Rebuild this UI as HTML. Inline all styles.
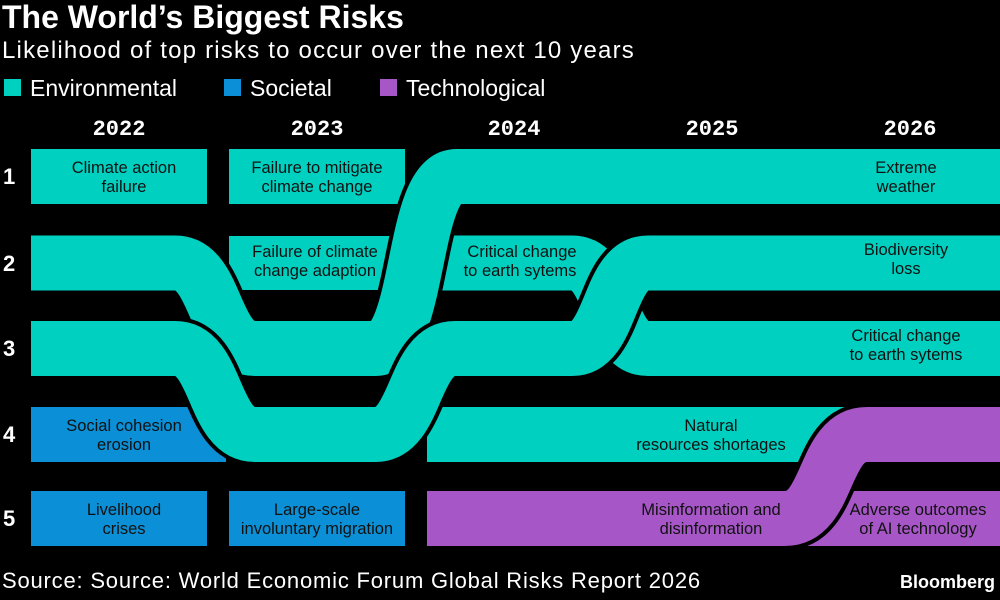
<!DOCTYPE html>
<html><head><meta charset="utf-8"><style>
body{margin:0;background:#000;width:1000px;height:600px;overflow:hidden;font-family:"Liberation Sans",sans-serif;color:#fff}
</style></head><body>
<svg width="1000" height="600" viewBox="0 0 1000 600" xmlns="http://www.w3.org/2000/svg" style="position:absolute;left:0;top:0">
<text x="2" y="28" font-size="32" font-weight="bold" fill="#fff">The World’s Biggest Risks</text>
<text x="2" y="58" font-size="24" letter-spacing="1.2" fill="#fff">Likelihood of top risks to occur over the next 10 years</text>
<rect x="4" y="79" width="17" height="17" fill="#00D0C0"/><text x="30" y="96" font-size="23" fill="#fff">Environmental</text>
<rect x="224" y="79" width="17" height="17" fill="#0B8FD6"/><text x="250" y="96" font-size="23" fill="#fff">Societal</text>
<rect x="380" y="79" width="17" height="17" fill="#A656C6"/><text x="406" y="96" font-size="23" fill="#fff">Technological</text>
<g font-family="Liberation Mono" font-weight="bold" font-size="22" fill="#fff" text-anchor="middle">
<text x="119" y="135">2022</text><text x="317" y="135">2023</text><text x="514" y="135">2024</text><text x="712" y="135">2025</text><text x="910" y="135">2026</text>
</g>
<g font-weight="bold" font-size="22" fill="#fff">
<text x="3" y="184">1</text><text x="3" y="271">2</text><text x="3" y="356">3</text><text x="3" y="442">4</text><text x="3" y="526">5</text>
</g>
<rect x="31" y="149" width="176" height="55" fill="#00D0C0"/>
<rect x="229" y="149" width="176" height="55" fill="#00D0C0"/>
<rect x="229" y="236" width="176" height="54" fill="#00D0C0"/>
<rect x="31" y="407" width="195" height="55" fill="#0B8FD6"/>
<rect x="31" y="491" width="176" height="55" fill="#0B8FD6"/>
<rect x="229" y="491" width="176" height="55" fill="#0B8FD6"/>
<rect x="800" y="491" width="200" height="55" fill="#A656C6"/>
<g fill="none" stroke-linecap="butt">
<path d="M427,434.5 H880" stroke="#000" stroke-width="63"/>
<path d="M427,434.5 H880" stroke="#00D0C0" stroke-width="55"/>
<path d="M427,263 H572 C613,263 607,348.5 648,348.5 H1000" stroke="#000" stroke-width="63"/>
<path d="M427,263 H572 C613,263 607,348.5 648,348.5 H1000" stroke="#00D0C0" stroke-width="55"/>
<path d="M31,263 H175 C218,263 212,348.5 255,348.5 H375 C422,348.5 410,176.5 457,176.5 H1000" stroke="#000" stroke-width="63"/>
<path d="M31,263 H175 C218,263 212,348.5 255,348.5 H375 C422,348.5 410,176.5 457,176.5 H1000" stroke="#00D0C0" stroke-width="55"/>
<path d="M31,348.5 H175 C218,348.5 212,434.5 255,434.5 H375 C418,434.5 412,348.5 455,348.5 H572 C613,348.5 607,263 648,263 H1000" stroke="#000" stroke-width="63"/>
<path d="M31,348.5 H175 C218,348.5 212,434.5 255,434.5 H375 C418,434.5 412,348.5 455,348.5 H572 C613,348.5 607,263 648,263 H1000" stroke="#00D0C0" stroke-width="55"/>
<path d="M427,518.5 H785 C830,518.5 822,434.5 867,434.5 H1000" stroke="#000" stroke-width="63"/>
<path d="M427,518.5 H785 C830,518.5 822,434.5 867,434.5 H1000" stroke="#A656C6" stroke-width="55"/>
</g>
<g font-size="16.5" fill="#111" text-anchor="middle">
<text x="124" y="173">Climate action</text><text x="124" y="192">failure</text>
<text x="317" y="173">Failure to mitigate</text><text x="317" y="192">climate change</text>
<text x="315" y="257">Failure of climate</text><text x="315" y="276">change adaption</text>
<text x="522" y="257">Critical change</text><text x="520" y="276">to earth sytems</text>
<text x="906" y="173">Extreme</text><text x="906" y="192">weather</text>
<text x="906" y="255">Biodiversity</text><text x="906" y="274">loss</text>
<text x="906" y="341">Critical change</text><text x="906" y="360">to earth sytems</text>
<text x="124" y="431">Social cohesion</text><text x="124" y="450">erosion</text>
<text x="711" y="431">Natural</text><text x="711" y="450">resources shortages</text>
<text x="124" y="515">Livelihood</text><text x="124" y="534">crises</text>
<text x="317" y="515">Large-scale</text><text x="317" y="534">involuntary migration</text>
<text x="711" y="515">Misinformation and</text><text x="711" y="534">disinformation</text>
<text x="918" y="515">Adverse outcomes</text><text x="918" y="534">of AI technology</text>
</g>
<text x="2" y="588" font-size="22" letter-spacing="0.8" fill="#fff">Source: Source: World Economic Forum Global Risks Report 2026</text>
<text x="995" y="588" font-size="18" font-weight="bold" fill="#fff" text-anchor="end">Bloomberg</text>
</svg>
</body></html>
